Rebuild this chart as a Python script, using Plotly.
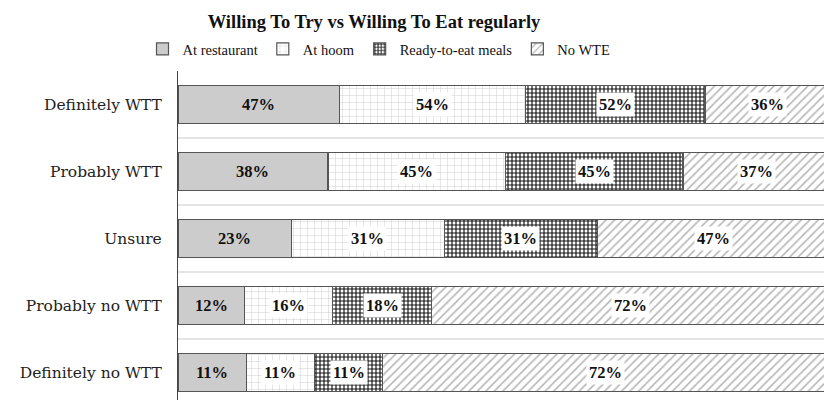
import plotly.graph_objects as go

# Survey answers (top to bottom) and the share choosing each way to eat
categories = ["Definitely WTT", "Probably WTT", "Unsure", "Probably no WTT", "Definitely no WTT"]
at_restaurant = [47, 38, 23, 12, 11]
at_hoom = [54, 45, 31, 16, 11]
ready_to_eat = [52, 45, 31, 18, 11]
no_wte = [36, 37, 47, 72, 72]

series_names = ["At restaurant", "At hoom", "Ready-to-eat meals", "No WTE"]
series_values = [at_restaurant, at_hoom, ready_to_eat, no_wte]

OUTLINE = "#555555"
patterns = [
    dict(shape="", fillmode="replace"),
    dict(shape="+", fgcolor="#cfcfcf", bgcolor="white", size=7, solidity=0.14, fillmode="replace"),
    dict(shape="+", fgcolor="#141414", bgcolor="white", size=4, solidity=0.5, fillmode="replace"),
    dict(shape="/", fgcolor="#b3b3b3", bgcolor="white", size=6, solidity=0.25, fillmode="replace"),
]
fills = ["#cccccc", "white", "white", "white"]

fig = go.Figure()
for name, vals, pat, fill in zip(series_names, series_values, patterns, fills):
    fig.add_trace(go.Bar(
        y=categories, x=vals, name=name, orientation="h",
        marker=dict(color=fill, pattern=pat, line=dict(color=OUTLINE, width=1.2)),
        hoverinfo="skip",
    ))

# Value labels centred in each normalised segment
annotations = []
for i, cat in enumerate(categories):
    row = [vals[i] for vals in series_values]
    total = sum(row)
    start = 0
    for k, v in enumerate(row):
        centre = (start + v / 2) / total * 100
        start += v
        annotations.append(dict(
            x=centre, y=cat, xref="x", yref="y", text=f"<b>{v}%</b>",
            showarrow=False,
            font=dict(family="Liberation Serif", size=16.5, color="#111111"),
            bgcolor=None if k == 0 else "white",
            borderpad=2,
        ))

fig.update_layout(
    width=824, height=400,
    margin=dict(l=178, r=0, t=71, b=0),
    paper_bgcolor="white", plot_bgcolor="white",
    barmode="stack", barnorm="percent", bargap=0.43,
    showlegend=True,
    title=dict(
        text="<b>Willing To Try vs Willing To Eat regularly</b>",
        font=dict(family="Liberation Serif", size=18.5, color="#111111"),
        x=374 / 824, xref="container", xanchor="center",
        y=1 - 22 / 400, yref="container", yanchor="middle",
    ),
    legend=dict(
        orientation="h", traceorder="normal",
        x=379 / 824, xref="container", xanchor="center",
        y=1 - 49 / 400, yref="container", yanchor="middle",
        font=dict(family="Liberation Serif", size=14.5, color="#111111"),
        itemwidth=30, bgcolor="rgba(0,0,0,0)",
    ),
    annotations=annotations,
)
fig.update_xaxes(range=[0, 100 * (824 - 178) / 651], visible=False,
                 showgrid=False, zeroline=False, fixedrange=True)
fig.update_yaxes(
    type="category", categoryorder="array", categoryarray=categories,
    range=[4.41, -0.5], tickson="boundaries",
    showgrid=True, gridcolor="#e4e4e4", gridwidth=1.5,
    showline=True, linecolor="#444444", linewidth=1.2,
    ticks="", ticklabelstandoff=12,
    tickfont=dict(family="DejaVu Serif", size=15.5, color="#222222"),
    fixedrange=True,
)

fig.write_html("out.html")
